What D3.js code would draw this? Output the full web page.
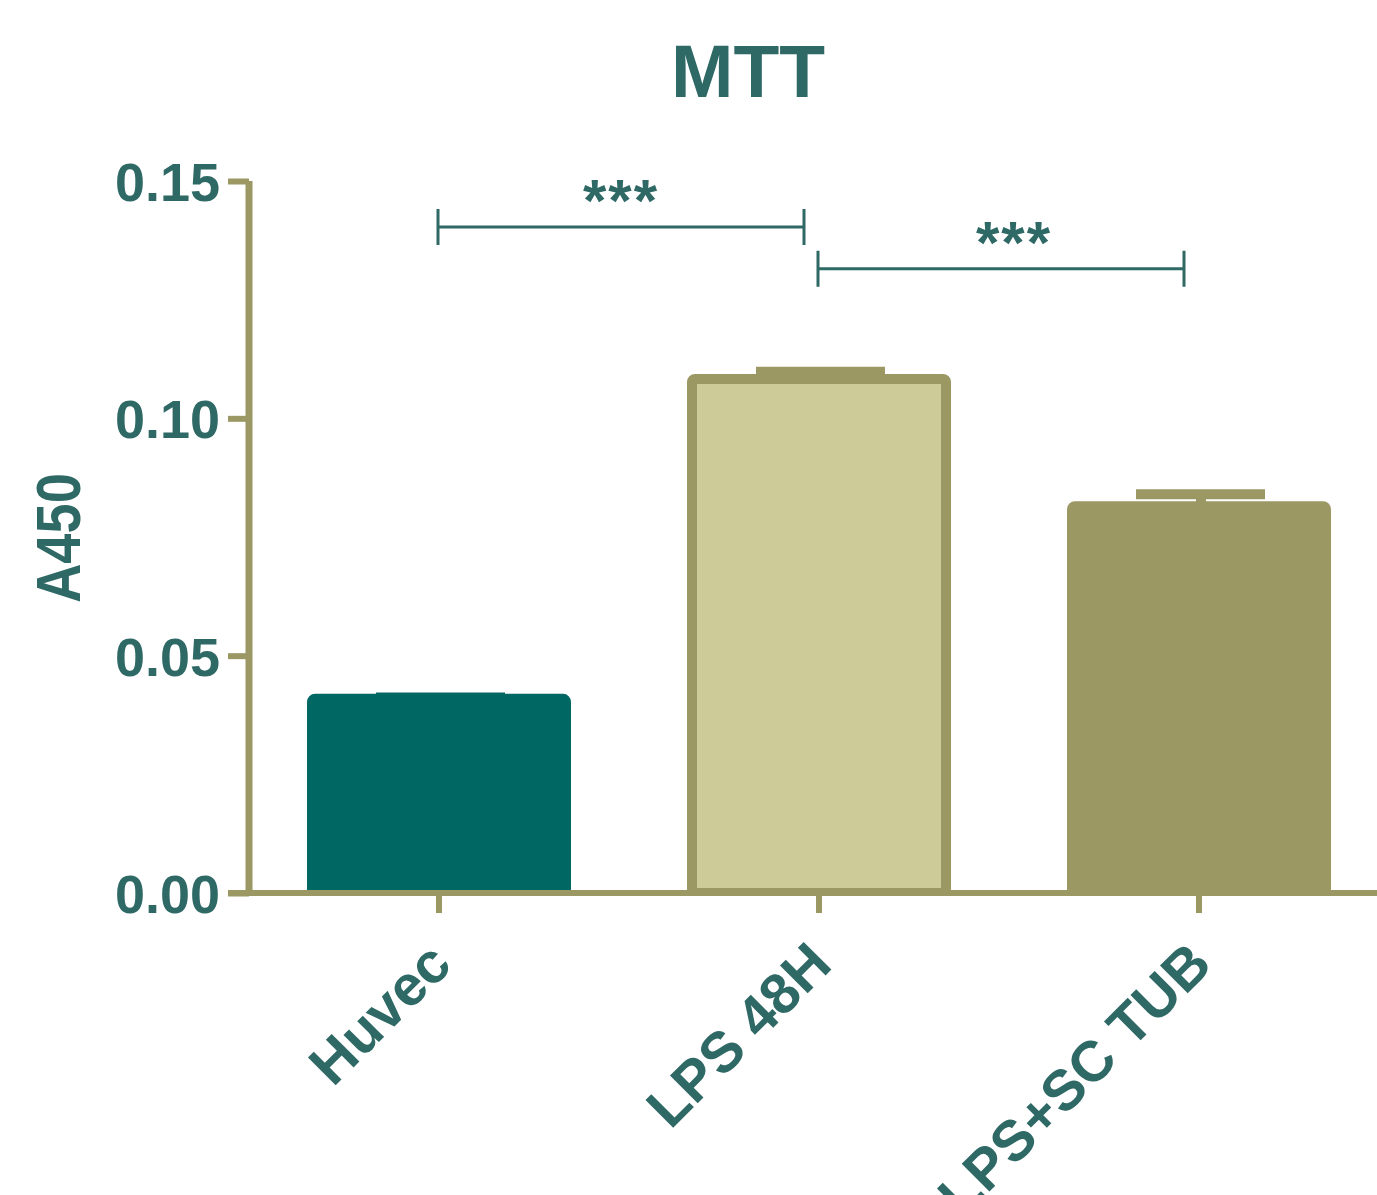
<!DOCTYPE html>
<html>
<head>
<meta charset="utf-8">
<script src="https://cdn.jsdelivr.net/npm/d3@7"></script>
<style>
  html, body { margin: 0; padding: 0; background: #fff; }
  svg { display: block; font-family: "Liberation Sans", Arial, sans-serif; }
</style>
</head>
<body>
<svg id="chart" width="1377" height="1195"></svg>
<script>
// MTT assay: absorbance at 450 nm, mean ± SEM
const categories = ["Huvec", "LPS 48H", "LPS+SC TUB"];
const means = [0.0409, 0.1083, 0.0815];
const sems = [0.0003, 0.0015, 0.0025];
const yTicks = [0.00, 0.05, 0.10, 0.15];
const brackets = [
  { from: 0, to: 1, level: 0.1403, label: "***" },
  { from: 1, to: 2, level: 0.1315, label: "***" }
];

const TEXT = "#2f6966";
const AXIS = "#9b9864";
const fills = ["#006762", "#cdcb98", "#9b9864"];
const strokes = ["#006762", "#9b9864", "#9b9864"];

const svg = d3.select("#chart");

const x = d3.scaleBand().domain(categories).range([249, 1389]).padding(0);
const y = d3.scaleLinear().domain([0, 0.15]).range([893, 181]);
const cx = c => x(c) + x.bandwidth() / 2;

// keep bar outlines from poking below the baseline
svg.append("defs").append("clipPath").attr("id", "plot-clip")
  .append("rect").attr("x", 0).attr("y", 0).attr("width", 1377).attr("height", y(0));

// title
svg.append("text")
  .attr("x", 748).attr("y", 97)
  .attr("text-anchor", "middle")
  .attr("font-size", 75).attr("font-weight", "bold")
  .attr("fill", TEXT)
  .text("MTT");

// y-axis title
svg.append("text")
  .attr("transform", "translate(80,538) rotate(-90) scale(0.86,1)")
  .attr("text-anchor", "middle")
  .attr("font-size", 63).attr("font-weight", "bold")
  .attr("fill", TEXT)
  .text("A450");

const plot = svg.append("g").attr("clip-path", "url(#plot-clip)");

// error bars (drawn behind the bars, upward only)
categories.forEach((c, i) => {
  const top = y(means[i] + sems[i]);
  plot.append("line")
    .attr("x1", cx(c) + 2).attr("x2", cx(c) + 2)
    .attr("y1", y(means[i])).attr("y2", top)
    .attr("stroke", strokes[i]).attr("stroke-width", 10);
  plot.append("line")
    .attr("x1", cx(c) - 63).attr("x2", cx(c) + 66)
    .attr("y1", top).attr("y2", top)
    .attr("stroke", strokes[i]).attr("stroke-width", 10)
    .attr("stroke-linecap", "butt");
});

// bars
const barW = 254;
plot.append("g").selectAll("rect")
  .data(categories)
  .join("rect")
  .attr("x", c => cx(c) - barW / 2)
  .attr("y", (c, i) => y(means[i]))
  .attr("width", barW)
  .attr("height", (c, i) => y(0) - y(means[i]))
  .attr("rx", 3)
  .attr("fill", (c, i) => fills[i])
  .attr("stroke", (c, i) => strokes[i])
  .attr("stroke-width", 10)
  .attr("stroke-linejoin", "round");

// y axis
const yAxis = svg.append("g")
  .attr("transform", "translate(249,0)")
  .call(d3.axisLeft(y).tickValues(yTicks).tickFormat(d3.format(".2f")).tickSize(21).tickPadding(8));
yAxis.select(".domain").attr("stroke", AXIS).attr("stroke-width", 7)
  .attr("d", `M0,${y(0.15)}V${y(0)}`);
yAxis.selectAll(".tick line").attr("stroke", AXIS).attr("stroke-width", 6);
yAxis.selectAll(".tick text")
  .attr("fill", TEXT).attr("font-size", 54).attr("font-weight", "bold")
  .attr("font-family", "Liberation Sans, Arial, sans-serif")
  .attr("dy", "0.36em");

// x axis
const xAxis = svg.append("g")
  .attr("transform", `translate(0,${y(0)})`)
  .call(d3.axisBottom(x).tickSize(20).tickPadding(0));
xAxis.select(".domain").attr("stroke", AXIS).attr("stroke-width", 6)
  .attr("d", "M228,0H1377");
xAxis.selectAll(".tick line").attr("stroke", AXIS).attr("stroke-width", 6);
xAxis.selectAll(".tick text")
  .attr("fill", TEXT).attr("font-size", 57).attr("font-weight", "bold")
  .attr("font-family", "Liberation Sans, Arial, sans-serif")
  .attr("text-anchor", "end")
  .attr("dy", null).attr("y", null)
  .attr("transform", "translate(15,74) rotate(-45)");

// significance brackets
const bg = svg.append("g");
brackets.forEach((b, k) => {
  const x1 = cx(categories[b.from]) - 1;
  const x2 = cx(categories[b.to]) - 15;
  const yy = y(b.level);
  bg.append("path")
    .attr("d", `M${x1},${yy - 18}V${yy + 18}M${x1},${yy}H${x2}M${x2},${yy - 18}V${yy + 18}`)
    .attr("fill", "none").attr("stroke", TEXT).attr("stroke-width", 3);
  bg.append("text")
    .attr("x", (x1 + x2) / 2 + (k === 1 ? 13 : 0)).attr("y", yy - 6)
    .attr("text-anchor", "middle")
    .attr("font-size", 60).attr("font-weight", "bold")
    .attr("letter-spacing", 2)
    .attr("fill", TEXT)
    .text(b.label);
});
</script>
</body>
</html>
